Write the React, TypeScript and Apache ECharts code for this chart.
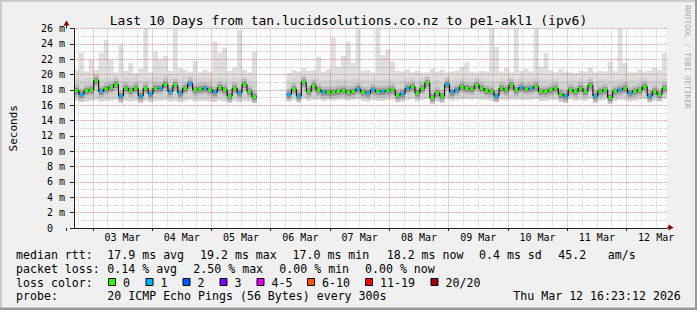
import React, { useEffect, useRef } from 'react';
import * as echarts from 'echarts';

const MONO = '"DejaVu Sans Mono", monospace';

const titleText = 'Last 10 Days from tan.lucidsolutions.co.nz to pe1-akl1 (ipv6)';
const yAxisName = 'Seconds';
const watermark = 'RRDTOOL / TOBI OETIKER';

// hours since Mar 2 00:00
const startHour = 16 + 23.2 / 60;
const endHour = startHour + 240;
const stepHours = 2;

const dayLabels = ['03 Mar', '04 Mar', '05 Mar', '06 Mar', '07 Mar', '08 Mar', '09 Mar', '10 Mar', '11 Mar', '12 Mar'];
const dayLabelHours = [36, 60, 84, 108, 132, 156, 180, 204, 228, 252];
const midnightHours = [24, 48, 72, 96, 120, 144, 168, 192, 216, 240];
const yUnit = ' m';

// median rtt (ms), one value per 2h step, null = no data
const median = [
  17.9, 17.4, 17.9, 18.0, 19.2, 17.8, 18.1, 18.3, 18.7, 17.2,
  18.2, 17.9, 18.2, 17.2, 18.2, 17.5, 18.2, 18.2, 18.7, 17.8,
  18.6, 17.6, 18.2, 18.8, 18.0, 18.1, 18.2, 18.0, 17.7, 18.3,
  18.0, 17.2, 18.2, 17.6, 18.7, 17.8, 17.1, null, null, null,
  null, null, null, 17.4, 18.1, 17.2, 19.0, 17.8, 18.5, 18.0,
  17.7, 17.7, 17.7, 17.8, 17.9, 17.7, 17.8, 18.1, 17.7, 17.6,
  18.0, 17.8, 17.8, 17.9, 18.0, 17.3, 17.5, 18.2, 18.4, 17.6,
  18.2, 18.9, 17.0, 17.6, 17.2, 18.7, 17.7, 18.0, 18.4, 18.2,
  18.1, 18.6, 18.2, 17.9, 17.8, 17.2, 18.2, 18.0, 18.6, 18.0,
  18.3, 18.1, 18.2, 18.4, 17.8, 17.8, 18.0, 18.2, 17.4, 17.2,
  18.0, 17.8, 18.2, 17.8, 18.6, 17.2, 17.8, 18.0, 17.0, 17.8,
  18.0, 18.2, 17.6, 17.8, 18.0, 18.4, 17.2, 17.8, 17.4, 18.2,
];

// lost pings (of 20) per step
const lossCount = [
  0, 1, 0, 0, 0, 1, 0, 0, 0, 1,
  0, 0, 0, 1, 0, 1, 0, 1, 0, 1,
  0, 1, 0, 1, 0, 0, 1, 0, 1, 0,
  0, 0, 0, 1, 0, 0, 0, null, null, null,
  null, null, null, 1, 0, 1, 0, 0, 0, 0,
  1, 0, 0, 0, 0, 0, 0, 1, 0, 1,
  1, 0, 1, 0, 0, 0, 1, 1, 0, 0,
  0, 0, 0, 0, 0, 1, 1, 1, 0, 0,
  0, 0, 0, 0, 0, 1, 0, 0, 0, 0,
  1, 0, 1, 0, 0, 0, 0, 0, 0, 1,
  0, 0, 0, 0, 0, 1, 0, 0, 0, 0,
  1, 0, 1, 0, 0, 0, 1, 0, 0, 0,
];

// bottom of the smoke (ms)
const smokeLow = [
  16.6, 16.4, 16.5, 16.6, 16.7, 16.5, 16.6, 16.6, 16.7, 16.3,
  16.6, 16.5, 16.6, 16.3, 16.6, 16.4, 16.6, 16.6, 16.7, 16.5,
  16.6, 16.4, 16.6, 16.7, 16.5, 16.6, 16.6, 16.5, 16.4, 16.6,
  16.5, 16.3, 16.6, 16.4, 16.6, 16.5, 16.3, null, null, null,
  null, null, null, 16.5, 16.7, 16.4, 16.8, 16.6, 16.7, 16.7,
  16.6, 16.7, 16.6, 16.7, 16.7, 16.6, 16.7, 16.8, 16.6, 16.5,
  16.7, 16.6, 16.6, 16.7, 16.7, 16.4, 16.5, 16.7, 16.8, 16.5,
  16.7, 16.8, 16.2, 16.5, 16.3, 16.8, 16.6, 16.7, 16.8, 16.8,
  16.7, 16.8, 16.7, 16.7, 16.6, 16.4, 16.7, 16.7, 16.8, 16.7,
  16.7, 16.7, 16.7, 16.8, 16.6, 16.6, 16.7, 16.7, 16.4, 16.3,
  16.7, 16.6, 16.7, 16.6, 16.8, 16.3, 16.6, 16.7, 16.2, 16.6,
  16.7, 16.7, 16.5, 16.6, 16.7, 16.8, 16.4, 16.6, 16.5, 16.8,
];

// top of the dense smoke (ms)
const smokeHigh = [
  19.4, 19.3, 19.5, 19.6, 20.0, 19.4, 19.6, 19.6, 19.8, 19.2,
  19.6, 19.5, 19.6, 19.3, 19.6, 19.4, 19.6, 19.6, 19.8, 19.5,
  19.7, 19.4, 19.6, 19.8, 19.5, 19.5, 19.6, 19.5, 19.4, 19.6,
  19.5, 19.2, 19.6, 19.4, 19.7, 19.4, 19.2, null, null, null,
  null, null, null, 19.2, 19.5, 19.2, 19.8, 19.4, 19.6, 19.4,
  19.3, 19.3, 19.3, 19.4, 19.4, 19.3, 19.4, 19.5, 19.3, 19.3,
  19.4, 19.3, 19.3, 19.4, 19.4, 19.2, 19.3, 19.5, 19.6, 19.3,
  19.5, 19.8, 19.2, 19.3, 19.2, 19.7, 19.3, 19.4, 19.6, 19.5,
  19.4, 19.6, 19.5, 19.4, 19.3, 19.2, 19.5, 19.4, 19.6, 19.4,
  19.5, 19.4, 19.5, 19.6, 19.3, 19.3, 19.4, 19.5, 19.2, 19.2,
  19.4, 19.3, 19.5, 19.3, 19.6, 19.2, 19.3, 19.4, 19.2, 19.3,
  19.4, 19.5, 19.3, 19.3, 19.4, 19.6, 19.2, 19.3, 19.2, 19.5,
];

// slowest ping per step (ms)
const peak = [
  20.6, 22.8, 20.4, 21.9, 20.6, 22.8, 24.5, 21.9, 20.3, 23.9,
  20.5, 21.5, 20.2, 20.8, 26.0, 20.3, 23.0, 22.0, 22.4, 20.5,
  26.0, 20.9, 20.6, 20.4, 21.8, 20.3, 20.6, 20.4, 24.3, 22.8,
  23.5, 20.5, 20.9, 25.8, 20.6, 20.3, 23.0, null, null, null,
  null, null, null, 20.2, 20.6, 20.4, 20.9, 20.5, 20.6, 22.3,
  20.4, 20.7, 24.8, 21.0, 22.4, 24.3, 21.5, 26.0, 20.5, 20.6,
  20.3, 26.0, 22.5, 23.3, 21.7, 20.5, 20.4, 20.7, 20.3, 20.5,
  20.2, 20.3, 20.8, 20.4, 20.6, 20.3, 20.4, 20.5, 21.0, 21.6,
  20.4, 20.3, 20.5, 20.4, 26.0, 23.6, 20.4, 20.9, 20.3, 26.0,
  20.5, 20.8, 20.4, 26.0, 21.0, 22.8, 20.6, 20.3, 20.8, 20.4,
  20.3, 20.2, 20.5, 20.4, 20.9, 20.3, 20.5, 20.4, 21.7, 20.5,
  26.0, 21.5, 20.4, 20.3, 20.7, 20.4, 20.5, 20.9, 20.6, 22.8,
];

const rttStats = ['17.9 ms avg', '19.2 ms max', '17.0 ms min', '18.2 ms now', '0.4 ms sd', '45.2', 'am/s'];
const lossStats = ['0.14 % avg', '2.50 % max', '0.00 % min', '0.00 % now'];
const lossLabels = ['0', '1', '2', '3', '4-5', '6-10', '11-19', '20/20'];
const lossColors = ['#26ff00', '#00b8ff', '#0059ff', '#7e00ff', '#dd00ff', '#ff5500', '#ff0000', '#a10000'];
const probeText = '20 ICMP Echo Pings (56 Bytes) every 300s';
const dateText = 'Thu Mar 12 16:23:12 2026';

function lossClass(n: number): number {
  if (n <= 3) return n;
  if (n <= 5) return 4;
  if (n <= 10) return 5;
  if (n <= 19) return 6;
  return 7;
}

export default function App() {
  const ref = useRef<HTMLDivElement>(null);

  useEffect(() => {
    if (!ref.current) return;
    const chart = echarts.init(ref.current, null, { renderer: 'svg' });

    const stepX = (i: number) => startHour + stepHours * i + stepHours / 2;
    const smokeData: any[] = [];
    const lossData: any[] = [];
    const lineData: any[] = [];
    median.forEach((m, i) => {
      lineData.push([stepX(i), m]);
      if (m === null) return;
      smokeData.push([stepX(i), smokeLow[i], smokeHigh[i], peak[i], m]);
      lossData.push([stepX(i), m, lossCount[i]]);
    });

    const sixHourMarks: number[] = [];
    for (let h = 18; h < endHour; h += 6) if (h % 24 !== 0) sixHourMarks.push(h);

    const gridLeft = 67, gridTop = 28.5, gridW = 600, gridH = 199.5;
    const axisY = gridTop + gridH;
    const textBase = { fill: '#000', fontFamily: MONO, fontSize: 11.6, verticalAlign: 'middle', align: 'left' };
    const rowY = [255.3, 269, 282.7, 296.4];
    const rttX = [107.3, 200, 292.5, 386.7, 479, 558.3, 607.7];
    const lossStatX = [107.3, 193.3, 279.3, 365];
    const boxX = [108, 145.5, 182.5, 219.5, 256.5, 307, 365, 430.5];

    const graphics: any[] = [
      // frame shading
      { type: 'rect', shape: { x: 0, y: 0, width: 697, height: 2 }, style: { fill: '#cbcbcb' } },
      { type: 'rect', shape: { x: 0, y: 0, width: 2, height: 310 }, style: { fill: '#cbcbcb' } },
      { type: 'rect', shape: { x: 0, y: 307.5, width: 697, height: 2.5 }, style: { fill: '#999999' } },
      { type: 'rect', shape: { x: 695, y: 0, width: 2, height: 310 }, style: { fill: '#999999' } },
      // axis extensions and arrows
      { type: 'line', shape: { x1: 66.5, y1: axisY, x2: 66.5, y2: axisY + 3 }, style: { stroke: '#202020', lineWidth: 1 } },
      { type: 'line', shape: { x1: 66.5, y1: gridTop, x2: 66.5, y2: 24 }, style: { stroke: '#202020', lineWidth: 1 } },
      { type: 'polygon', shape: { points: [[63.5, 25.5], [69.5, 25.5], [66.5, 20.5]] }, style: { fill: '#8b0000' } },
      { type: 'line', shape: { x1: gridLeft + gridW, y1: 227.5, x2: 669, y2: 227.5 }, style: { stroke: '#202020', lineWidth: 1 } },
      { type: 'polygon', shape: { points: [[668.5, 224.5], [668.5, 230.5], [673.5, 227.5]] }, style: { fill: '#8b0000' } },
      // watermark
      {
        type: 'text', x: 687, y: 57, rotation: -Math.PI / 2,
        style: { text: watermark, fill: '#a8a8a8', fontFamily: MONO, fontSize: 7.8, align: 'center', verticalAlign: 'middle' },
      },
      // legend rows
      { type: 'text', x: 16, y: rowY[0], style: { ...textBase, text: 'median rtt:' } },
      ...rttStats.map((t, i) => ({ type: 'text', x: rttX[i], y: rowY[0], style: { ...textBase, text: t } })),
      { type: 'text', x: 16, y: rowY[1], style: { ...textBase, text: 'packet loss:' } },
      ...lossStats.map((t, i) => ({ type: 'text', x: lossStatX[i], y: rowY[1], style: { ...textBase, text: t } })),
      { type: 'text', x: 16, y: rowY[2], style: { ...textBase, text: 'loss color:' } },
      ...lossLabels.map((t, i) => ({
        type: 'rect', shape: { x: boxX[i] + 0.5, y: 278.5, width: 7, height: 7 },
        style: { fill: lossColors[i], stroke: '#000', lineWidth: 1 },
      })),
      ...lossLabels.map((t, i) => ({ type: 'text', x: boxX[i] + 15, y: rowY[2], style: { ...textBase, text: t } })),
      { type: 'text', x: 16, y: rowY[3], style: { ...textBase, text: 'probe:' } },
      { type: 'text', x: 107.3, y: rowY[3], style: { ...textBase, text: probeText } },
      { type: 'text', x: 513.3, y: rowY[3], style: { ...textBase, text: dateText } },
    ];

    const option: any = {
      animation: false,
      backgroundColor: '#f0f0f0',
      title: {
        text: titleText, left: 'center', top: 9,
        textStyle: { fontFamily: MONO, fontSize: 13, fontWeight: 'normal', color: '#000' },
      },
      grid: { left: gridLeft, top: gridTop, width: gridW, height: gridH, show: true, backgroundColor: '#ffffff', borderWidth: 0 },
      xAxis: [
        {
          type: 'value', min: startHour, max: endHour, position: 'bottom',
          axisLine: { show: true, onZero: false, lineStyle: { color: '#202020', width: 1 } },
          axisTick: { show: true, customValues: midnightHours, length: 3, lineStyle: { color: '#202020' } },
          axisLabel: {
            customValues: dayLabelHours,
            formatter: (v: number) => dayLabels[dayLabelHours.indexOf(Math.round(v))] ?? '',
            margin: 4, fontFamily: MONO, fontSize: 10, color: '#000',
          },
          splitLine: { show: true, lineStyle: { color: '#f09a9a', type: [1, 1], width: 1 } },
        },
        {
          type: 'value', min: startHour, max: endHour, position: 'bottom',
          axisLine: { show: false }, axisLabel: { show: false },
          axisTick: { show: false, customValues: sixHourMarks },
          splitLine: { show: true, lineStyle: { color: '#cfcfcf', type: [1, 1], width: 1 } },
        },
      ],
      yAxis: {
        type: 'value', min: 0, max: 26, interval: 2,
        name: yAxisName, nameLocation: 'middle', nameGap: 55, nameRotate: 90,
        nameTextStyle: { fontFamily: MONO, fontSize: 11, color: '#000' },
        axisLine: { show: true, lineStyle: { color: '#202020', width: 1 } },
        axisTick: { show: true, length: 4, lineStyle: { color: '#202020' } },
        axisLabel: {
          formatter: (v: number) => (v === 0 ? '0\u00a0\u00a0' : v + yUnit),
          margin: 9, fontFamily: MONO, fontSize: 10, color: '#000',
        },
        splitLine: { show: true, lineStyle: { color: '#f09a9a', type: [1, 1], width: 1 } },
        minorTick: { show: false, splitNumber: 2 },
        minorSplitLine: { show: true, lineStyle: { color: '#cfcfcf', type: [1, 1], width: 1 } },
      },
      series: [
        {
          type: 'custom', name: 'smoke', xAxisIndex: 0, yAxisIndex: 0, z: 2,
          encode: { x: 0, y: [1, 2, 3, 4] },
          data: smokeData,
          clip: true,
          renderItem: (params: any, api: any) => {
            const x = api.value(0);
            const left = api.coord([x - stepHours / 2, 0])[0];
            const w = api.size([stepHours, 0])[0];
            const yLo = api.coord([x, api.value(1)])[1];
            const yHi = api.coord([x, api.value(2)])[1];
            const yPk = api.coord([x, api.value(3)])[1];
            const yMd = api.coord([x, api.value(4)])[1];
            return {
              type: 'group',
              children: [
                { type: 'rect', shape: { x: left, y: yPk, width: w, height: yLo - yPk }, style: { fill: 'rgba(0,0,0,0.13)' } },
                { type: 'rect', shape: { x: left, y: yHi, width: w, height: yLo - yHi }, style: { fill: 'rgba(0,0,0,0.05)' } },
                { type: 'rect', shape: { x: left, y: yMd - 6, width: w, height: 12 }, style: { fill: 'rgba(0,0,0,0.10)' } },
                { type: 'rect', shape: { x: left, y: yMd - 3, width: w, height: 6.5 }, style: { fill: 'rgba(0,0,0,0.22)' } },
              ],
            };
          },
        },
        {
          type: 'line', name: 'median', xAxisIndex: 0, yAxisIndex: 0, z: 3,
          data: lineData, step: 'middle', symbol: 'none', connectNulls: false,
          lineStyle: { color: '#000', width: 1 },
        },
        {
          type: 'custom', name: 'loss', xAxisIndex: 0, yAxisIndex: 0, z: 4,
          encode: { x: 0, y: 1 },
          data: lossData,
          renderItem: (params: any, api: any) => {
            const x = api.value(0);
            const w = api.size([stepHours, 0])[0];
            const c = api.coord([x, api.value(1)]);
            const segW = w - 1.5;
            return {
              type: 'rect',
              shape: { x: c[0] - segW / 2, y: c[1] - 1.5, width: segW, height: 3 },
              style: { fill: lossColors[lossClass(api.value(2))] },
            };
          },
        },
      ],
      graphic: graphics,
    };

    chart.setOption(option);
    return () => chart.dispose();
  }, []);

  return <div ref={ref} style={{ position: 'fixed', left: 0, top: 0, width: 697, height: 310 }} />;
}
